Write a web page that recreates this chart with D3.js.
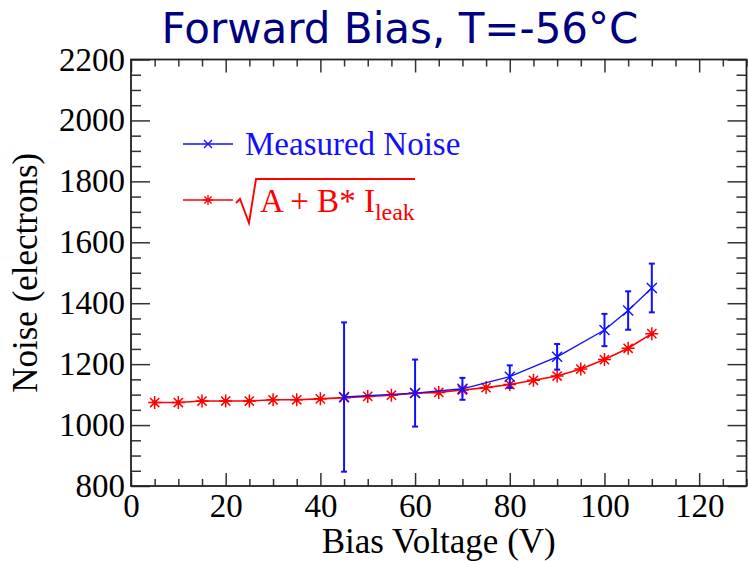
<!DOCTYPE html>
<html>
<head>
<meta charset="utf-8">
<script src="https://cdn.jsdelivr.net/npm/d3@7"></script>
<style>
  body { margin: 0; background: #fff; }
  svg { display: block; }
</style>
</head>
<body>
<div id="chart"></div>
<script>
// calculated noise sqrt(A + B*Ileak), red
const calcVolts = [5, 10, 15, 20, 25, 30, 35, 40, 45, 50, 55, 60, 65, 70, 75, 80, 85, 90, 95, 100, 105, 110];
const calcNoise = [1074, 1074, 1079, 1079, 1079, 1083, 1083, 1086, 1090, 1094, 1098, 1105, 1107, 1115, 1123, 1133, 1147, 1161, 1184, 1215, 1252, 1300];

// measured noise with errors, blue
const measVolts = [45, 60, 70, 80, 90, 100, 105, 110];
const measNoise = [1092, 1105, 1119, 1159, 1224, 1312, 1376, 1450];
const measErr = [245, 110, 36, 37, 42, 53, 63, 80];

const xTicks = [0, 20, 40, 60, 80, 100, 120];
const yTicks = [800, 1000, 1200, 1400, 1600, 1800, 2000, 2200];

const W = 748, H = 561;
const frame = { left: 131, right: 746.5, top: 59.5, bottom: 486 };

const svg = d3.select("#chart").append("svg")
    .attr("width", W)
    .attr("height", H);

const x = d3.scaleLinear().domain([0, 130]).range([frame.left, frame.right]);
const y = d3.scaleLinear().domain([800, 2200]).range([frame.bottom, frame.top]);

const xMinor = d3.range(0, 131, 5).filter(v => v % 20 !== 0);
const yMinor = d3.range(800, 2201, 50).filter(v => v % 200 !== 0);

const tickColor = "#333";
const serif = "'Liberation Serif', 'Times New Roman', serif";

function styleAxis(g) {
    g.select(".domain").remove();
    g.selectAll("line").attr("stroke", tickColor).attr("stroke-width", 1.5);
    g.selectAll("text").attr("fill", "#000").style("font-family", serif).style("font-size", "33px");
}

// bottom axis
svg.append("g")
    .attr("transform", `translate(0, ${frame.bottom})`)
    .call(d3.axisBottom(x).tickValues(xTicks).tickFormat(d3.format("d")).tickSizeInner(-13).tickSizeOuter(0).tickPadding(8))
    .call(styleAxis);
svg.append("g")
    .attr("transform", `translate(0, ${frame.bottom})`)
    .call(d3.axisBottom(x).tickValues(xMinor).tickSizeInner(-7).tickSizeOuter(0).tickFormat(""))
    .call(styleAxis);

// top axis (ticks only)
svg.append("g")
    .attr("transform", `translate(0, ${frame.top})`)
    .call(d3.axisTop(x).tickValues(xTicks).tickSizeInner(-13).tickSizeOuter(0).tickFormat(""))
    .call(styleAxis);
svg.append("g")
    .attr("transform", `translate(0, ${frame.top})`)
    .call(d3.axisTop(x).tickValues(xMinor).tickSizeInner(-7).tickSizeOuter(0).tickFormat(""))
    .call(styleAxis);

// left axis
svg.append("g")
    .attr("transform", `translate(${frame.left}, 0)`)
    .call(d3.axisLeft(y).tickValues(yTicks).tickFormat(d3.format("d")).tickSizeInner(-19).tickSizeOuter(0).tickPadding(6))
    .call(styleAxis);
svg.append("g")
    .attr("transform", `translate(${frame.left}, 0)`)
    .call(d3.axisLeft(y).tickValues(yMinor).tickSizeInner(-10).tickSizeOuter(0).tickFormat(""))
    .call(styleAxis);

// right axis (ticks only)
svg.append("g")
    .attr("transform", `translate(${frame.right}, 0)`)
    .call(d3.axisRight(y).tickValues(yTicks).tickSizeInner(-19).tickSizeOuter(0).tickFormat(""))
    .call(styleAxis);
svg.append("g")
    .attr("transform", `translate(${frame.right}, 0)`)
    .call(d3.axisRight(y).tickValues(yMinor).tickSizeInner(-10).tickSizeOuter(0).tickFormat(""))
    .call(styleAxis);

// frame
svg.append("rect")
    .attr("x", frame.left)
    .attr("y", frame.top)
    .attr("width", frame.right - frame.left)
    .attr("height", frame.bottom - frame.top)
    .attr("fill", "none")
    .attr("stroke", "#222")
    .attr("stroke-width", 1.8);

// marker paths
const starPath = r => {
    const d = r * Math.SQRT1_2;
    return `M${-r},0L${r},0M0,${-r}L0,${r}M${-d},${-d}L${d},${d}M${-d},${d}L${d},${-d}`;
};
const crossPath = r => `M${-r},${-r}L${r},${r}M${-r},${r}L${r},${-r}`;

const red = "#ff0000", blue = "#1010ff";

// red series
const calcData = calcVolts.map((v, i) => ({ v, n: calcNoise[i] }));
const line = d3.line().x(d => x(d.v)).y(d => y(d.n));

svg.append("path")
    .datum(calcData)
    .attr("d", line)
    .attr("fill", "none")
    .attr("stroke", red)
    .attr("stroke-width", 1.6);

const redPts = svg.append("g").selectAll("g")
    .data(calcData)
    .join("g")
    .attr("transform", d => `translate(${x(d.v)}, ${y(d.n)})`);
redPts.append("path")
    .attr("d", starPath(6.5))
    .attr("stroke", red)
    .attr("stroke-width", 1.5)
    .attr("fill", "none");
redPts.append("circle")
    .attr("r", 2.2)
    .attr("fill", red);

// blue series
const measData = measVolts.map((v, i) => ({ v, n: measNoise[i], e: measErr[i] }));

svg.append("path")
    .datum(measData)
    .attr("d", line)
    .attr("fill", "none")
    .attr("stroke", blue)
    .attr("stroke-width", 1.4);

const errs = svg.append("g").selectAll("g")
    .data(measData)
    .join("g");
errs.append("line")
    .attr("x1", d => x(d.v)).attr("x2", d => x(d.v))
    .attr("y1", d => y(d.n - d.e)).attr("y2", d => y(d.n + d.e))
    .attr("stroke", blue).attr("stroke-width", 2);
errs.append("line")
    .attr("x1", d => x(d.v) - 3).attr("x2", d => x(d.v) + 3)
    .attr("y1", d => y(d.n - d.e)).attr("y2", d => y(d.n - d.e))
    .attr("stroke", blue).attr("stroke-width", 2);
errs.append("line")
    .attr("x1", d => x(d.v) - 3).attr("x2", d => x(d.v) + 3)
    .attr("y1", d => y(d.n + d.e)).attr("y2", d => y(d.n + d.e))
    .attr("stroke", blue).attr("stroke-width", 2);
errs.append("path")
    .attr("transform", d => `translate(${x(d.v)}, ${y(d.n)})`)
    .attr("d", crossPath(5))
    .attr("stroke", blue)
    .attr("stroke-width", 1.4)
    .attr("fill", "none");

// legend
const leg = svg.append("g");
leg.append("line").attr("x1", 183).attr("x2", 233).attr("y1", 144).attr("y2", 144)
    .attr("stroke", blue).attr("stroke-width", 1.5);
leg.append("path").attr("transform", "translate(208, 144)").attr("d", crossPath(4))
    .attr("stroke", blue).attr("stroke-width", 1.3).attr("fill", "none");
leg.append("text")
    .attr("x", 245).attr("y", 155)
    .attr("fill", blue)
    .style("font-family", serif).style("font-size", "33px")
    .text("Measured Noise");

leg.append("line").attr("x1", 183).attr("x2", 233).attr("y1", 200).attr("y2", 200)
    .attr("stroke", red).attr("stroke-width", 1.5);
leg.append("path").attr("transform", "translate(208, 200)").attr("d", starPath(5))
    .attr("stroke", red).attr("stroke-width", 1.3).attr("fill", "none");
// radical sign
leg.append("path")
    .attr("d", "M236,203 L240,199 L249,223 L256,179 L415,179")
    .attr("fill", "none")
    .attr("stroke", red)
    .attr("stroke-width", 1.9);
const formula = leg.append("text")
    .attr("x", 260).attr("y", 212)
    .attr("fill", red)
    .style("font-family", serif).style("font-size", "33px");
formula.append("tspan").text("A + B* I");
formula.append("tspan").attr("dy", 8).style("font-size", "24px").text("leak");

// axis titles
svg.append("text")
    .attr("x", (frame.left + frame.right) / 2)
    .attr("y", 553)
    .attr("text-anchor", "middle")
    .style("font-family", serif).style("font-size", "35px")
    .text("Bias Voltage (V)");

svg.append("text")
    .attr("transform", `translate(37, ${(frame.top + frame.bottom) / 2}) rotate(-90)`)
    .attr("text-anchor", "middle")
    .style("font-family", serif).style("font-size", "35px")
    .text("Noise (electrons)");

// title
svg.append("text")
    .attr("x", 400)
    .attr("y", 43)
    .attr("text-anchor", "middle")
    .attr("fill", "#000080")
    .style("font-family", "'DejaVu Sans', sans-serif")
    .style("font-size", "42px")
    .text("Forward Bias, T=-56°C");
</script>
</body>
</html>
